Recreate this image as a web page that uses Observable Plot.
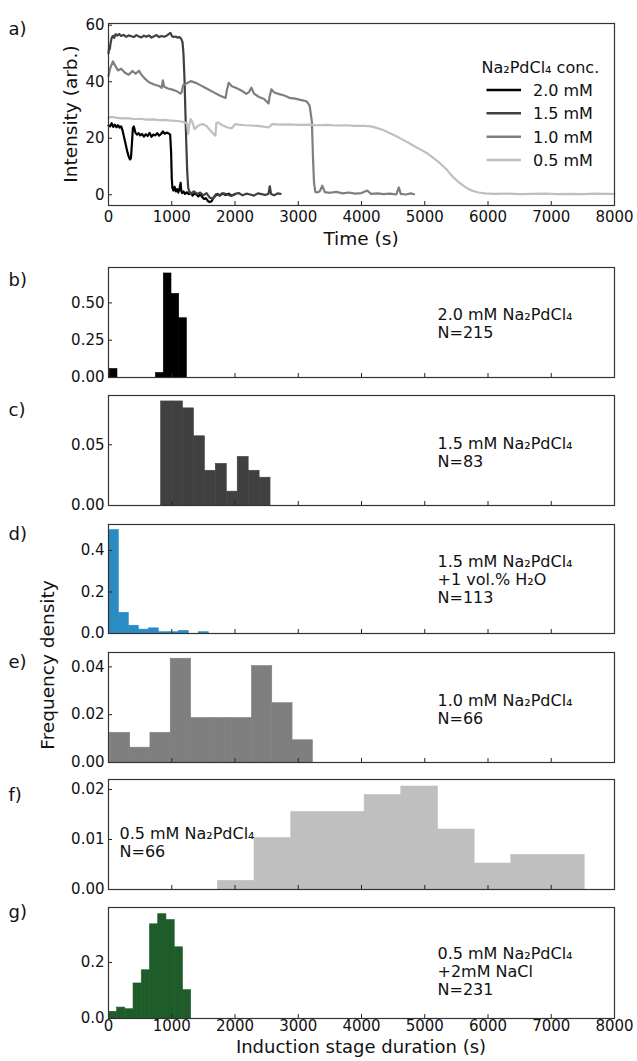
<!DOCTYPE html>
<html><head><meta charset="utf-8">
<script src="https://cdn.jsdelivr.net/npm/d3@7"></script>
<script src="https://cdn.jsdelivr.net/npm/@observablehq/plot@0.6"></script>
<style>
body{margin:0;background:#fff;}
#wrap{position:relative;width:637px;height:1061px;overflow:hidden;font-family:"DejaVu Sans",sans-serif;background:#fff;}
#wrap svg{position:absolute;left:0;}
</style></head><body><div id="wrap"></div>
<script>
// ---------- Panel a: intensity traces ----------
const seriesNames = ["2.0 mM", "1.5 mM", "1.0 mM", "0.5 mM"];
const seriesColors = ["#000000", "#404040", "#7f7f7f", "#bfbfbf"];

const t20 = [0,25,50,75,100,125,150,175,200,225,250,275,300,320,340,355,370,385,400,425,450,475,500,530,560,590,620,650,680,710,740,770,800,830,860,890,920,950,975,990,1000,1010,1025,1045,1065,1085,1105,1125,1140,1150,1165,1185,1210,1240,1270,1300,1330,1360,1390,1420,1450,1480,1510,1540,1570,1600,1630,1660,1690,1720,1760,1800,1850,1900,1950,2000];
const v20 = [24.5,24.2,25.3,24.0,24.8,23.9,24.6,23.8,24.2,22.5,20,17.5,15,13.5,12.5,13,18,23.5,24.2,22,21.3,21.8,21,21.5,20.6,21.4,20.8,21.9,20.5,21.3,21,21.8,20.9,21.5,22.4,21.6,22,21.7,21.3,15,6,2.5,1.5,2.8,1.2,2,0.8,2.5,4.2,1.5,0.6,1.2,0.3,0.9,0.2,0.7,-0.3,0.5,0.1,-0.6,0.2,-0.8,-1.5,-1.2,-2.2,-2.6,-2.3,-1.0,-0.4,0.3,-0.2,0.5,-0.1,0.4,-0.3,0.2];

const t15 = [0,10,20,35,50,70,90,110,140,170,200,240,280,320,360,400,440,480,520,560,600,640,680,720,760,800,840,880,920,950,980,1000,1030,1060,1090,1120,1150,1170,1185,1200,1215,1230,1245,1260,1280,1310,1350,1400,1450,1500,1550,1600,1650,1700,1760,1820,1880,1940,2000,2060,2120,2180,2240,2300,2360,2420,2480,2530,2550,2570,2620,2670,2720];
const v15 = [50,52,51.5,54,55.5,56.2,55.5,56.8,56.3,56.9,56.2,56.6,55.9,56.4,56.1,55.8,56.5,56.0,55.7,56.3,55.9,56.4,55.6,56.1,56.5,55.8,56.2,55.9,56.3,56.8,57.3,56.2,55.8,56.0,55.6,55.8,55.2,54,50,42,30,18,8,2.5,1.0,0.4,1.2,0.3,0.8,-0.2,0.6,-1.0,-1.5,0.2,-0.3,0.5,0.1,-0.4,0.3,0.6,-0.2,0.4,0.1,-0.3,0.5,0.2,-0.1,0.4,3.0,0.3,-0.2,0.5,0.3];

const t10 = [0,30,70,110,150,200,260,320,380,430,480,520,570,640,720,800,840,860,880,940,1010,1080,1140,1160,1180,1230,1300,1380,1450,1550,1650,1750,1850,1870,1900,1950,2020,2100,2180,2220,2260,2300,2380,2460,2530,2545,2575,2620,2700,2780,2860,2950,3050,3130,3180,3215,3235,3250,3270,3300,3340,3380,3420,3500,3600,3700,3800,3900,4000,4090,4150,4250,4350,4450,4550,4590,4620,4700,4780,4830];
const v10 = [42,45,47.2,45.5,44,44.6,43.2,42.5,43.8,42.8,43.9,42.5,41.2,39.8,39,38.5,37.8,40.5,38.2,37.6,37.2,36.6,35.8,36.5,38.8,39.4,40.2,39.6,38.8,37.6,36.4,35.2,34.2,36.8,39.6,38.4,37.8,36.9,35.7,36.3,37.9,35.8,34.6,33.9,32.3,34.5,37.3,36.2,35.6,35.1,34.3,34,33.5,33.1,31.5,26,12,4,1.0,0.8,1.2,3.2,0.9,0.7,1.0,0.5,0.8,0.4,0.6,1.5,0.3,0.5,0.2,0.4,0.1,2.6,0.3,0.1,0.5,0.2];

const t05 = [0,50,110,200,300,400,500,600,700,800,900,1000,1100,1200,1240,1260,1275,1300,1330,1360,1400,1450,1500,1550,1600,1650,1690,1705,1730,1800,1880,1950,2000,2060,2150,2250,2350,2450,2530,2590,2700,2850,3000,3150,3300,3450,3600,3750,3900,4050,4150,4250,4350,4450,4550,4650,4750,4850,4950,5050,5150,5250,5350,5450,5550,5650,5750,5850,5950,6100,6300,6500,6700,6900,7100,7300,7500,7700,7900,8000];
const v05 = [27.2,27.6,27.3,27.0,27.1,26.8,26.9,26.6,26.7,26.4,26.5,26.2,26.1,25.7,25.2,21.5,24.5,26.8,25.5,23.2,24.1,24.8,25.0,24.3,23.0,21.8,20.9,25.4,25.6,24.6,23.8,23.5,25.0,24.8,24.6,24.5,24.4,24.1,23.8,25.0,24.8,24.9,24.7,24.8,24.6,24.7,24.5,24.6,24.4,24.4,24.2,23.6,22.8,21.8,20.7,19.5,18.3,17.0,15.8,14.5,12.8,11.0,8.8,6.2,4.2,2.6,1.4,0.8,0.5,0.3,0.4,0.2,0.3,0.4,0.2,0.3,0.2,0.4,0.3,0.3];

const timeTicks = [0,1000,2000,3000,4000,5000,6000,7000,8000];
const intensityTicks = [0,20,40,60];

// ---------- Histograms (bin lower edge, upper edge, density) ----------
const bLo = [20,752,874,996,1118];
const bHi = [142,874,996,1118,1240];
const bDen = [0.057,0.030,0.697,0.560,0.397];
const bTicks = [0,0.25,0.5];

const cLo = [832,1005,1178,1351,1524,1697,1870,2043,2216,2389];
const cHi = [1005,1178,1351,1524,1697,1870,2043,2216,2389,2562];
const cDen = [0.0857,0.0857,0.080,0.057,0.0286,0.0343,0.0114,0.040,0.0286,0.0229];
const cTicks = [0,0.05];

const dLo = [5,163,321,479,637,795,953,1111,1269,1427];
const dHi = [163,321,479,637,795,953,1111,1269,1427,1585];
const dDen = [0.498,0.0997,0.0374,0.0187,0.0249,0.0062,0.0062,0.0125,0,0.0062];
const dTicks = [0,0.2,0.4];

const eLo = [21,342,663,984,1305,1626,1947,2268,2589,2910];
const eHi = [342,663,984,1305,1626,1947,2268,2589,2910,3231];
const eDen = [0.0124,0.0062,0.0124,0.0434,0.0186,0.0186,0.0186,0.0403,0.0248,0.0093];
const eTicks = [0,0.02,0.04];

const fLo = [1729,2309,2889,3469,4049,4629,5209,5789,6369,6949];
const fHi = [2309,2889,3469,4049,4629,5209,5789,6369,6949,7529];
const fDen = [0.00172,0.0103,0.0155,0.0155,0.0189,0.0206,0.012,0.0052,0.0069,0.0069];
const fTicks = [0,0.01,0.02];

const gLo = [5,135,265,396,526,656,786,916,1047,1177];
const gHi = [135,265,396,526,656,786,916,1047,1177,1307];
const gDen = [0.024,0.039,0.033,0.125,0.172,0.336,0.372,0.351,0.254,0.101];
const gTicks = [0,0.2];

// ---------- Layout ----------
const W = 637, ML = 108, MR = 23;
const innerW = W - ML - MR;
const FONT = "DejaVu Sans";
const wrap = document.getElementById("wrap");

function bins(lo, hi, den) { return lo.map((l, i) => ({x1: l, x2: hi[i], y: den[i]})); }
const bars = (data, color) => Plot.rectY(data, {x1: "x1", x2: "x2", y: "y", fill: color, stroke: color, strokeWidth: 0.6});

function panel({top, height, mt, mb, yDomain, yTicks, yFmt, marks, xLabels, xPad}) {
  const innerH = height - mt - mb;
  const m = [
    ...marks,
    Plot.tickX(timeTicks, {x: d => d, insetTop: innerH - 4, stroke: "#222", strokeWidth: 1}),
    Plot.tickY(yTicks, {y: d => d, insetRight: innerW - 4, stroke: "#222", strokeWidth: 1}),
    Plot.axisY(yTicks, {tickSize: 0, tickPadding: 4, tickFormat: yFmt, fontSize: 15, fill: "#111", label: null}),
    Plot.frame({stroke: "#333", strokeWidth: 1.2})
  ];
  if (xLabels) m.push(Plot.axisX(timeTicks, {tickSize: 0, tickPadding: xPad, tickFormat: d => String(d), fontSize: 15, fill: "#111", label: null}));
  const svg = Plot.plot({
    width: W, height, marginLeft: ML, marginRight: MR, marginTop: mt, marginBottom: mb,
    x: {domain: [0, 8000], axis: null},
    y: {domain: yDomain, axis: null},
    style: {background: "transparent", fontFamily: FONT, fontSize: "15px", overflow: "visible", color: "#111"},
    marks: m
  });
  svg.style.top = top + "px";
  wrap.appendChild(svg);
}

const annot = (txt, dx, dy) => Plot.text([txt], {text: d => d, frameAnchor: "top-left", textAnchor: "start", lineAnchor: "top", dx, dy, fontSize: 16, lineHeight: 1.12, fill: "#111"});

// Panel a
const lineData = [
  ...t20.map((t, i) => ({t, v: v20[i], s: seriesNames[0]})),
  ...t15.map((t, i) => ({t, v: v15[i], s: seriesNames[1]})),
  ...t10.map((t, i) => ({t, v: v10[i], s: seriesNames[2]})),
  ...t05.map((t, i) => ({t, v: v05[i], s: seriesNames[3]}))
];
panel({top: 0, height: 260, mt: 23, mb: 55, yDomain: [-3.8, 60.6], yTicks: intensityTicks, yFmt: d => String(d), xLabels: true, xPad: 6,
  marks: seriesNames.map((s, k) => Plot.line(lineData.filter(d => d.s === s), {x: "t", y: "v", stroke: seriesColors[k], strokeWidth: 2.2}))});

// Panels b-g
panel({top: 257, height: 130, mt: 10, mb: 10, yDomain: [0, 0.737], yTicks: bTicks, yFmt: ".2f",
  marks: [bars(bins(bLo, bHi, bDen), "#000"), annot("2.0 mM Na₂PdCl₄\nN=215", 329, 39.5)]});
panel({top: 385, height: 130, mt: 10, mb: 10, yDomain: [0, 0.0906], yTicks: cTicks, yFmt: ".2f",
  marks: [bars(bins(cLo, cHi, cDen), "#404040"), annot("1.5 mM Na₂PdCl₄\nN=83", 329, 41)]});
panel({top: 514, height: 129, mt: 10, mb: 10, yDomain: [0, 0.525], yTicks: dTicks, yFmt: ".1f",
  marks: [bars(bins(dLo, dHi, dDen), "#2b8cc4"), annot("1.5 mM Na₂PdCl₄\n+1 vol.% H₂O\nN=113", 329, 29.5)]});
panel({top: 642, height: 130, mt: 10, mb: 10, yDomain: [0, 0.046], yTicks: eTicks, yFmt: ".2f",
  marks: [bars(bins(eLo, eHi, eDen), "#7f7f7f"), annot("1.0 mM Na₂PdCl₄\nN=66", 329, 40.5)]});
panel({top: 769, height: 130, mt: 10, mb: 10, yDomain: [0, 0.022], yTicks: fTicks, yFmt: ".2f",
  marks: [bars(bins(fLo, fHi, fDen), "#bfbfbf"), annot("0.5 mM Na₂PdCl₄\nN=66", 11, 47)]});
panel({top: 897, height: 164, mt: 10, mb: 43, yDomain: [0, 0.396], yTicks: gTicks, yFmt: ".1f", xLabels: true, xPad: 2,
  marks: [bars(bins(gLo, gHi, gDen), "#1e5c2a"), annot("0.5 mM Na₂PdCl₄\n+2mM NaCl\nN=231", 329, 39)]});

// ---------- Overlay: panel letters, axis titles, legend ----------
const panelLetters = ["a)", "b)", "c)", "d)", "e)", "f)", "g)"];
const letterY = [35, 286, 416, 540, 668, 801, 918];
const ns = "http://www.w3.org/2000/svg";
const ov = document.createElementNS(ns, "svg");
ov.setAttribute("width", W); ov.setAttribute("height", 1061);
ov.style.top = "0px"; ov.style.fontFamily = FONT; ov.style.pointerEvents = "none";
function txt(s, x, y, size, opts = {}) {
  const e = document.createElementNS(ns, "text");
  e.setAttribute("x", x); e.setAttribute("y", y);
  e.setAttribute("font-size", size); e.setAttribute("fill", opts.fill || "#111");
  if (opts.anchor) e.setAttribute("text-anchor", opts.anchor);
  if (opts.rotate) e.setAttribute("transform", `rotate(${opts.rotate},${x},${y})`);
  if (opts.baseline) e.setAttribute("dominant-baseline", opts.baseline);
  e.textContent = s; ov.appendChild(e);
}
panelLetters.forEach((l, i) => txt(l, 8.5, letterY[i], 18));
txt("Intensity (arb.)", 70, 114, 18.5, {anchor: "middle", rotate: -90, baseline: "central"});
txt("Frequency density", 47.5, 665, 18.5, {anchor: "middle", rotate: -90, baseline: "central"});
txt("Time (s)", 361, 245, 18.5, {anchor: "middle"});
txt("Induction stage duration (s)", 361, 1053, 18, {anchor: "middle"});
// legend
txt("Na₂PdCl₄ conc.", 481.5, 72.5, 16);
const legY = [90, 113.3, 136.7, 160];
seriesNames.forEach((s, k) => {
  const ln = document.createElementNS(ns, "line");
  ln.setAttribute("x1", 486.5); ln.setAttribute("x2", 521);
  ln.setAttribute("y1", legY[k]); ln.setAttribute("y2", legY[k]);
  ln.setAttribute("stroke", seriesColors[k]); ln.setAttribute("stroke-width", 2.5);
  ov.appendChild(ln);
  txt(s, 533, legY[k] + 5.8, 16);
});
wrap.appendChild(ov);
</script></body></html>
